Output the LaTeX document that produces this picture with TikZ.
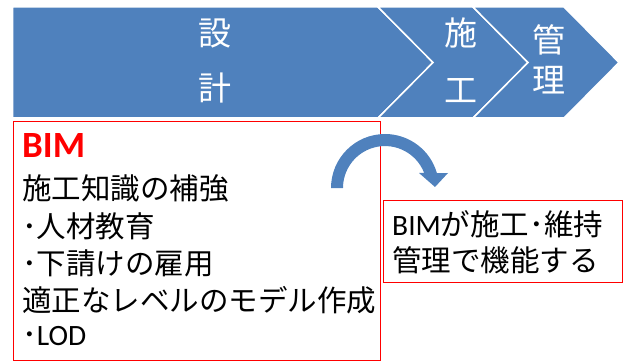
\documentclass[tikz,border=0pt]{standalone}
\usepackage{fontspec}
\setmainfont{Noto Sans CJK JP}
\newfontfamily\lat{Carlito}
\definecolor{chev}{HTML}{4F81BD}
\begin{document}
\begin{tikzpicture}[x=1pt,y=1pt,
  chevron/.style={fill=chev,draw=white,line width=1.5pt,line join=miter},
  redbox/.style={draw=red,line width=0.9pt,inner sep=0pt},
  lbl/.style={inner sep=0pt,anchor=base west,font=\fontsize{29.5}{30}\selectfont},
  ctext/.style={inner sep=0pt,anchor=base,text=white,font=\fontsize{33}{34}\selectfont}]
\useasboundingbox (0,0) rectangle (624,362);
% chevrons
\path[chevron] (12.5,355) -- (378,355) -- (433,299.5) -- (378,244) -- (12.5,244) -- cycle;
\path[chevron] (378,355) -- (473,355) -- (528,299.5) -- (473,244) -- (378,244) -- (433,299.5) -- cycle;
\path[chevron] (473,355) -- (564,355) -- (619,299.5) -- (564,244) -- (473,244) -- (528,299.5) -- cycle;
\node[ctext] (s1) at (215,316.5) {設};
\node[ctext] (s2) at (215,261.5) {計};
\node[ctext] (k1) at (461,316.5) {施};
\node[ctext] (k2) at (461,259.5) {工};
\node[ctext] (m1) at (549,309.5) {管};
\node[ctext] (m2) at (549,269.5) {理};
% boxes
\node[redbox,minimum width=367pt,minimum height=239pt] (leftbox) at (196.5,121.5) {};
\node[redbox,minimum width=239pt,minimum height=82pt] (rightbox) at (502.5,121) {};
% curved arrow
\fill[chev] (331,174) arc[start angle=180,end angle=16,radius=54] -- (448,189) -- (435,175) -- (419,189) -- (424.2,189) arc[start angle=21,end angle=180,radius=42] -- cycle;
% texts
\node[lbl,text=red,font=\lat\bfseries\fontsize{37}{38}\selectfont] (bim) at (22,204) {BIM};
\node[lbl] (l1) at (22,162) {施工知識の補強};
\node[lbl] (l2) at (22,124.6) {･人材教育};
\node[lbl] (l3) at (22,88) {･下請けの雇用};
\node[lbl] (l4) at (22,51) {適正なレベルのモデル作成};
\node[lbl] (l5) at (22,17) {･{\lat LOD}};
\node[lbl] (r1) at (392,127) {{\lat BIM}が施工･維持};
\node[lbl] (r2) at (392,91) {管理で機能する};
\end{tikzpicture}
\end{document}
